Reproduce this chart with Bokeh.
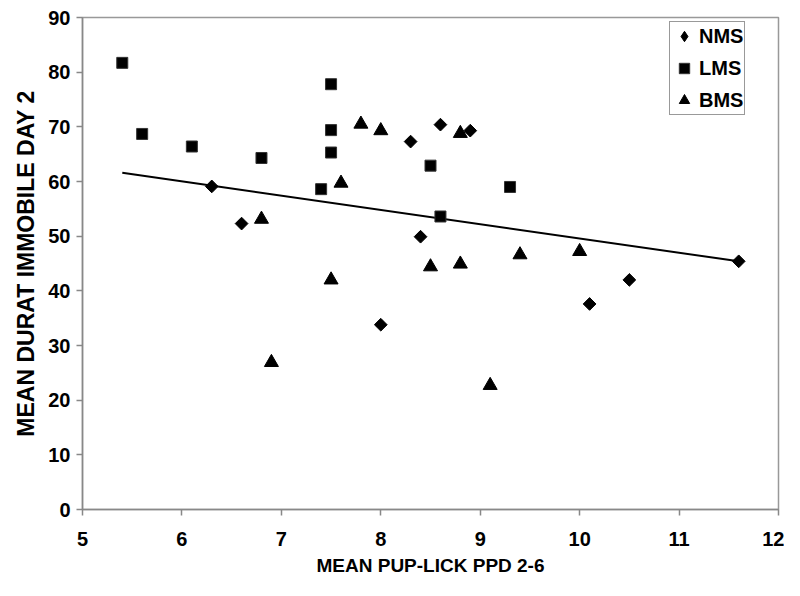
import numpy as np
from bokeh.plotting import figure
from bokeh.models import Legend, LegendItem, FixedTicker, Range1d
from bokeh.embed import file_html
from bokeh.resources import INLINE

# NMS
nms_x = [6.3, 6.6, 8.0, 8.3, 8.4, 8.6, 8.9, 10.1, 10.5, 11.6]
nms_y = [59.1, 52.3, 33.8, 67.3, 49.9, 70.4, 69.3, 37.6, 42.0, 45.4]
# LMS
lms_x = [5.4, 5.6, 6.1, 6.8, 7.4, 7.5, 7.5, 7.5, 8.5, 8.6, 9.3]
lms_y = [81.7, 68.7, 66.4, 64.3, 58.6, 77.8, 69.4, 65.3, 62.9, 53.6, 59.0]
# BMS
bms_x = [6.8, 6.9, 7.5, 7.6, 7.8, 8.0, 8.5, 8.8, 8.8, 9.1, 9.4, 10.0]
bms_y = [53.1, 26.9, 42.0, 59.7, 70.5, 69.3, 44.4, 68.8, 44.9, 22.7, 46.6, 47.2]

# linear trend line (end points)
trend_x = [5.4, 11.6]
trend_y = [61.6, 45.4]

x_ticks = [5, 6, 7, 8, 9, 10, 11, 12]
y_ticks = [0, 10, 20, 30, 40, 50, 60, 70, 80, 90]

p = figure(width=784, height=580, output_backend="svg", toolbar_location=None,
           x_range=Range1d(5, 12), y_range=Range1d(0, 90),
           min_border_left=82, min_border_right=6, min_border_top=17, min_border_bottom=71)
p.xgrid.visible = False
p.ygrid.visible = False
p.outline_line_color = "#999999"
p.outline_line_width = 1.5
p.background_fill_color = "white"
p.border_fill_color = "white"

FONT = "Liberation Sans"
for ax in (p.xaxis, p.yaxis):
    ax.axis_line_color = "#888888"
    ax.axis_line_width = 1.5
    ax.major_tick_line_color = "#888888"
    ax.major_tick_line_width = 1.5
    ax.major_tick_out = 6
    ax.major_tick_in = 0
    ax.minor_tick_line_color = None
    ax.major_label_text_font = FONT
    ax.major_label_text_font_style = "bold"
    ax.major_label_text_font_size = "20px"
    ax.major_label_text_color = "black"
    ax.axis_label_text_font = FONT
    ax.axis_label_text_font_style = "bold"
    ax.axis_label_text_color = "black"

p.xaxis.axis_label_text_font_size = "19px"
p.yaxis.axis_label_text_font_size = "23px"
p.xaxis.ticker = FixedTicker(ticks=x_ticks)
p.yaxis.ticker = FixedTicker(ticks=y_ticks)
p.xaxis.axis_label = "MEAN PUP-LICK PPD 2-6"
p.yaxis.axis_label = "MEAN DURAT IMMOBILE DAY 2"
p.xaxis.major_label_standoff = 16
p.yaxis.major_label_standoff = 6
p.xaxis.axis_label_standoff = 6
p.yaxis.axis_label_standoff = 6

p.line(trend_x, trend_y, line_color="black", line_width=2)

r_nms = p.scatter(nms_x, nms_y, marker="square", angle=np.pi / 4, size=9,
                  fill_color="black", line_color="black")
r_lms = p.scatter(lms_x, lms_y, marker="square", size=11,
                  fill_color="black", line_color="#333333")
r_bms = p.scatter(bms_x, bms_y, marker="triangle", size=14,
                  fill_color="black", line_color="black")
# legend-only glyph for the diamond shape (legend ignores marker angle)
r_nms_leg = p.scatter([np.nan], [np.nan], marker="diamond", size=18,
                      fill_color="black", line_color="black")

legend = Legend(items=[LegendItem(label="NMS", renderers=[r_nms_leg]),
                       LegendItem(label="LMS", renderers=[r_lms]),
                       LegendItem(label="BMS", renderers=[r_bms])],
                location=(587, 394))
legend.label_text_font = FONT
legend.label_text_font_style = "bold"
legend.label_text_font_size = "20px"
legend.label_text_color = "black"
legend.border_line_color = "#333333"
legend.border_line_width = 1
legend.padding = 1
legend.spacing = 6
legend.label_height = 26
legend.glyph_height = 26
legend.glyph_width = 26
legend.label_standoff = 2
legend.margin = 0
p.add_layout(legend, "center")

open("out.html", "w").write(file_html(p, INLINE))
